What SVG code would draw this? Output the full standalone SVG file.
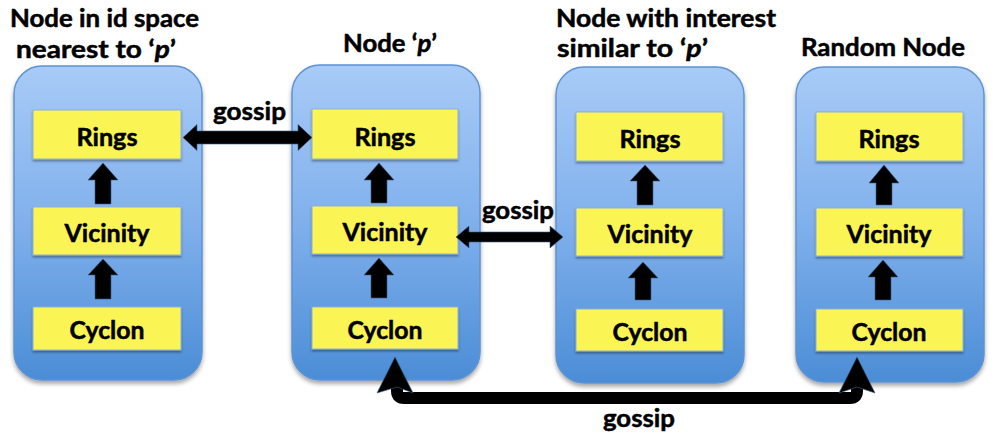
<svg xmlns="http://www.w3.org/2000/svg" width="1002" height="446" viewBox="0 0 1002 446">
<defs>
<linearGradient id="blueGrad" x1="0" y1="0" x2="0" y2="1">
<stop offset="0" stop-color="#a8cbf7"/>
<stop offset="0.5" stop-color="#80b0ec"/>
<stop offset="1" stop-color="#4b8dd6"/>
</linearGradient>
<filter id="shadow" x="-10%" y="-10%" width="120%" height="120%">
<feDropShadow dx="0" dy="3" stdDeviation="2" flood-color="#000" flood-opacity="0.35"/>
</filter>
<filter id="shadowS" x="-10%" y="-20%" width="120%" height="150%">
<feDropShadow dx="0" dy="2" stdDeviation="1.2" flood-color="#000" flood-opacity="0.35"/>
</filter>
</defs>
<style>
.outer{fill:url(#blueGrad);stroke:#5e93d2;stroke-width:1.5;filter:url(#shadow)}
.layer{fill:#fbf455;stroke:#8db0d2;stroke-width:1;filter:url(#shadowS)}
.t{font-family:Lato,"Open Sans","DejaVu Sans",sans-serif;font-weight:bold;font-size:24px;fill:#000;stroke:#000;stroke-width:0.5}
.lbl{font-family:Lato,"Open Sans","DejaVu Sans",sans-serif;font-weight:bold;font-size:24px;fill:#000;stroke:#000;stroke-width:0.5;text-anchor:middle}
.arr{fill:#000;stroke:#3a5f8a;stroke-width:0.6}
.conn{fill:none;stroke:#000;stroke-width:12;stroke-linejoin:round}
</style>

<g id="node-nearest">
<rect class="outer" x="14" y="66" width="188" height="314" rx="28"/>
<text class="t" x="10" y="27" textLength="189" lengthAdjust="spacingAndGlyphs">Node in id space</text>
<text class="t" x="16" y="58" textLength="160" lengthAdjust="spacingAndGlyphs">nearest to ‘<tspan font-style="italic">p</tspan>’</text>
<rect class="layer" x="33" y="110" width="148" height="49"/>
<text class="lbl" x="107" y="146" textLength="61" lengthAdjust="spacingAndGlyphs">Rings</text>
<rect class="layer" x="33" y="207" width="148" height="48"/>
<text class="lbl" x="107" y="242" textLength="85" lengthAdjust="spacingAndGlyphs">Vicinity</text>
<rect class="layer" x="33" y="307" width="148" height="43"/>
<text class="lbl" x="107" y="339" textLength="75" lengthAdjust="spacingAndGlyphs">Cyclon</text>
<polygon class="arr" points="103,163 118,180 111,180 111,204 95,204 95,180 88,180"/>
<polygon class="arr" points="103,259 118,275 111,275 111,299 95,299 95,275 88,275"/>
</g>

<g id="node-p">
<rect class="outer" x="292" y="65" width="188" height="315" rx="28"/>
<text class="t" x="343" y="52" textLength="94" lengthAdjust="spacingAndGlyphs">Node ‘<tspan font-style="italic">p</tspan>’</text>
<rect class="layer" x="312" y="109" width="146" height="50"/>
<text class="lbl" x="385" y="146" textLength="61" lengthAdjust="spacingAndGlyphs">Rings</text>
<rect class="layer" x="312" y="206" width="146" height="48"/>
<text class="lbl" x="385" y="241" textLength="85" lengthAdjust="spacingAndGlyphs">Vicinity</text>
<rect class="layer" x="312" y="307" width="146" height="42"/>
<text class="lbl" x="385" y="339" textLength="75" lengthAdjust="spacingAndGlyphs">Cyclon</text>
<polygon class="arr" points="379,163 394,180 387,180 387,203 371,203 371,180 364,180"/>
<polygon class="arr" points="379,258 394,275 387,275 387,298 371,298 371,275 364,275"/>
</g>

<g id="node-similar">
<rect class="outer" x="556" y="67" width="188" height="316" rx="28"/>
<text class="t" x="556" y="27" textLength="220" lengthAdjust="spacingAndGlyphs">Node with interest</text>
<text class="t" x="557" y="57" textLength="151" lengthAdjust="spacingAndGlyphs">similar to ‘<tspan font-style="italic">p</tspan>’</text>
<rect class="layer" x="576" y="112" width="147" height="49"/>
<text class="lbl" x="650" y="148" textLength="61" lengthAdjust="spacingAndGlyphs">Rings</text>
<rect class="layer" x="576" y="208" width="147" height="48"/>
<text class="lbl" x="650" y="243" textLength="85" lengthAdjust="spacingAndGlyphs">Vicinity</text>
<rect class="layer" x="576" y="309" width="147" height="42"/>
<text class="lbl" x="650" y="341" textLength="75" lengthAdjust="spacingAndGlyphs">Cyclon</text>
<polygon class="arr" points="645,165 660,181 653,181 653,205 637,205 637,181 630,181"/>
<polygon class="arr" points="643,262 658,278 651,278 651,300 635,300 635,278 628,278"/>
</g>

<g id="node-random">
<rect class="outer" x="796" y="67" width="188" height="315" rx="28"/>
<text class="t" x="801" y="56" textLength="164" lengthAdjust="spacingAndGlyphs">Random Node</text>
<rect class="layer" x="816" y="112" width="147" height="49"/>
<text class="lbl" x="889" y="148" textLength="61" lengthAdjust="spacingAndGlyphs">Rings</text>
<rect class="layer" x="816" y="208" width="147" height="48"/>
<text class="lbl" x="889" y="243" textLength="85" lengthAdjust="spacingAndGlyphs">Vicinity</text>
<rect class="layer" x="816" y="309" width="147" height="42"/>
<text class="lbl" x="889" y="341" textLength="75" lengthAdjust="spacingAndGlyphs">Cyclon</text>
<polygon class="arr" points="884,165 899,183 892,183 892,205 876,205 876,183 869,183"/>
<polygon class="arr" points="883,260 898,277 891,277 891,300 875,300 875,277 868,277"/>
</g>

<g id="connectors">
<polygon class="arr" points="183,137.5 197,124.5 197,131 298,131 298,124.5 312,137.5 298,150.5 298,144 197,144 197,150.5"/>
<text class="lbl" x="249.5" y="120" textLength="73" lengthAdjust="spacingAndGlyphs">gossip</text>
<polygon class="arr" points="456,237 469,226 469,232 550,232 550,226 563,237 550,248 550,242 469,242 469,248"/>
<text class="lbl" x="518" y="219" textLength="72" lengthAdjust="spacingAndGlyphs">gossip</text>
<path class="conn" d="M397,380 L397,391 Q397,398 404,398 L850,398 Q857,398 857,391 L857,380"/>
<polygon class="arr" points="395,357 413,393 397,387 377,393"/>
<polygon class="arr" points="857,357 875,393 857,387 839,393"/>
<text class="lbl" x="639" y="427" textLength="72" lengthAdjust="spacingAndGlyphs">gossip</text>
</g>
</svg>
